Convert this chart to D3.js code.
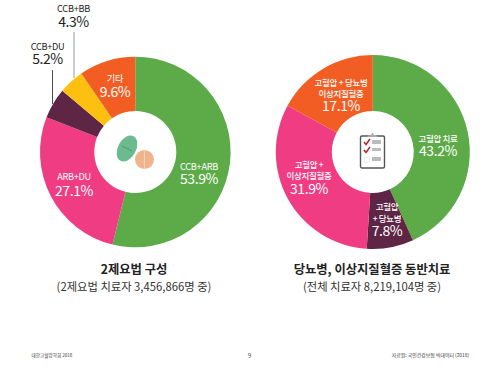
<!DOCTYPE html>
<html>
<head>
<meta charset="utf-8">
<script src="https://cdn.jsdelivr.net/npm/d3@7"></script>
<style>
  html, body { margin: 0; padding: 0; background: #fff; }
  svg { display: block; }
  text { font-family: "Noto Sans CJK KR", "Noto Sans", sans-serif; text-anchor: middle; }
</style>
</head>
<body>
<svg id="chart" width="500" height="372"></svg>
<script>
// Left donut: two-drug combinations
const comboNames = ["CCB+ARB", "ARB+DU", "CCB+DU", "CCB+BB", "기타"];
const comboValues = [53.9, 27.1, 5.2, 4.3, 9.6];

// Right donut: comorbidity treatment
const comorbidNames = ["고혈압 치료", "고혈압\n+ 당뇨병", "고혈압 +\n이상지질혈증", "고혈압 + 당뇨병\n이상지질혈증"];
const comorbidValues = [43.2, 7.8, 31.9, 17.1];

const comboColors = ["#5cab48", "#f03c82", "#5e2545", "#fdc010", "#f15d22"];
const comorbidColors = ["#5cab48", "#5e2545", "#f03c82", "#f15d22"];

const svg = d3.select("#chart");

function drawDonut(cfg) {
  const g = svg.append("g").attr("transform", `translate(${cfg.cx},${cfg.cy})`);
  const pie = d3.pie().sort(null)(cfg.values);
  const arc = d3.arc().innerRadius(cfg.inner).outerRadius(cfg.outer);

  g.selectAll("path")
    .data(pie)
    .enter()
    .append("path")
    .attr("d", arc)
    .attr("fill", (d, i) => cfg.colors[i]);

  // labels, white inside the ring and dark for the leader ones
  cfg.names.forEach((name, i) => {
    const p = cfg.labels[i];
    const lines = name.split("\n");
    const color = p.dark ? "#222" : "#fff";
    lines.forEach((line, k) => {
      svg.append("text")
        .attr("x", p.x)
        .attr("y", p.y + k * p.gap)
        .attr("fill", color)
        .attr("font-size", p.nameSize)
        .attr("font-weight", p.weight || 400)
        .attr("letter-spacing", "-0.3")
        .text(line);
    });
    svg.append("text")
      .attr("x", p.x)
      .attr("y", p.valueY)
      .attr("fill", color)
      .attr("font-size", 14)
      .attr("font-weight", 400)
      .attr("letter-spacing", "-0.4")
      .text(cfg.values[i].toFixed(1) + "%");
  });
}

drawDonut({
  cx: 135.3, cy: 152, outer: 95.3, inner: 41,
  values: comboValues, names: comboNames, colors: comboColors,
  labels: [
    { x: 199, y: 170, valueY: 184, nameSize: 9.2, gap: 0 },
    { x: 74, y: 180, valueY: 196, nameSize: 9.2, gap: 0 },
    { x: 47.5, y: 50, valueY: 64, nameSize: 9.2, gap: 0, dark: true },
    { x: 73.5, y: 12, valueY: 27, nameSize: 9.2, gap: 0, dark: true },
    { x: 115, y: 82, valueY: 97, nameSize: 9.2, gap: 0 }
  ]
});

drawDonut({
  cx: 372.8, cy: 152, outer: 97, inner: 41,
  values: comorbidValues, names: comorbidNames, colors: comorbidColors,
  labels: [
    { x: 438, y: 142, valueY: 156, nameSize: 8.5, gap: 0, weight: 500 },
    { x: 387, y: 210, valueY: 236, nameSize: 8.5, gap: 12, weight: 500 },
    { x: 309, y: 168, valueY: 194, nameSize: 8.5, gap: 11, weight: 500 },
    { x: 341, y: 86, valueY: 111, nameSize: 8.5, gap: 11, weight: 500 }
  ]
});

// Leader lines for the two small slices
svg.append("line").attr("x1", 52.5).attr("x2", 52.5).attr("y1", 70).attr("y2", 104)
  .attr("stroke", "#222").attr("stroke-width", 0.8);
svg.append("line").attr("x1", 74).attr("x2", 74).attr("y1", 32).attr("y2", 78)
  .attr("stroke", "#999").attr("stroke-width", 1);

// Pills in the left hole
const pills = svg.append("g");
pills.append("ellipse")
  .attr("cx", 127).attr("cy", 148.5).attr("rx", 9).attr("ry", 14)
  .attr("transform", "rotate(28 127 148.5)")
  .attr("fill", "#6cbb90");
pills.append("line").attr("x1", 122).attr("y1", 146).attr("x2", 132).attr("y2", 151)
  .attr("stroke", "#3f8c62").attr("stroke-width", 0.7);
pills.append("circle").attr("cx", 144.5).attr("cy", 159.5).attr("r", 9.5).attr("fill", "#efb48e");
pills.append("line").attr("x1", 144.5).attr("y1", 150).attr("x2", 144.5).attr("y2", 169)
  .attr("stroke", "#f6d3bb").attr("stroke-width", 0.9);

// Clipboard in the right hole
const clip = svg.append("g").attr("transform", "translate(360,134)");
clip.append("rect").attr("x", 0.5).attr("y", 2).attr("width", 24).attr("height", 32).attr("rx", 1.5)
  .attr("fill", "#fff").attr("stroke", "#555").attr("stroke-width", 1.4);
clip.append("path").attr("d", "M7,3 L9,1 L11,1 L12.5,-1.5 L14,1 L16,1 L18,3 Z").attr("fill", "#aaa");
[8, 16, 25].forEach((y, i) => {
  clip.append("rect").attr("x", 12).attr("y", y - 2).attr("width", 9).attr("height", i === 1 ? 3 : 4).attr("fill", "#bbb");
  if (i < 2) {
    clip.append("path").attr("d", `M4,${y} L6,${y + 2.5} L10,${y - 3}`)
      .attr("fill", "none").attr("stroke", "#b3232f").attr("stroke-width", 1.5);
  } else {
    clip.append("rect").attr("x", 4.5).attr("y", y - 2).attr("width", 5).attr("height", 5)
      .attr("fill", "none").attr("stroke", "#ddd").attr("stroke-width", 0.6);
  }
});

// Captions
const captions = [
  { x: 134, title: "2제요법 구성", sub: "(2제요법 치료자 3,456,866명 중)" },
  { x: 372, title: "당뇨병, 이상지질혈증 동반치료", sub: "(전체 치료자 8,219,104명 중)" }
];
captions.forEach(c => {
  svg.append("text").attr("x", c.x).attr("y", 274).attr("font-size", 12.3)
    .attr("font-weight", 700).attr("fill", "#222").text(c.title);
  svg.append("text").attr("x", c.x).attr("y", 291).attr("font-size", 11.3)
    .attr("fill", "#333").text(c.sub);
});

// Footer
svg.append("text").attr("x", 52).attr("y", 357).attr("font-size", 4.6).attr("fill", "#333").text("대한고혈압학회 2018");
svg.append("text").attr("x", 249.5).attr("y", 358).attr("font-size", 6.5).attr("fill", "#555").text("9");
svg.append("text").attr("x", 430.5).attr("y", 357).attr("font-size", 4.9).attr("fill", "#333").text("자료원: 국민건강보험 빅데이터 (2018)");
</script>
</body>
</html>
